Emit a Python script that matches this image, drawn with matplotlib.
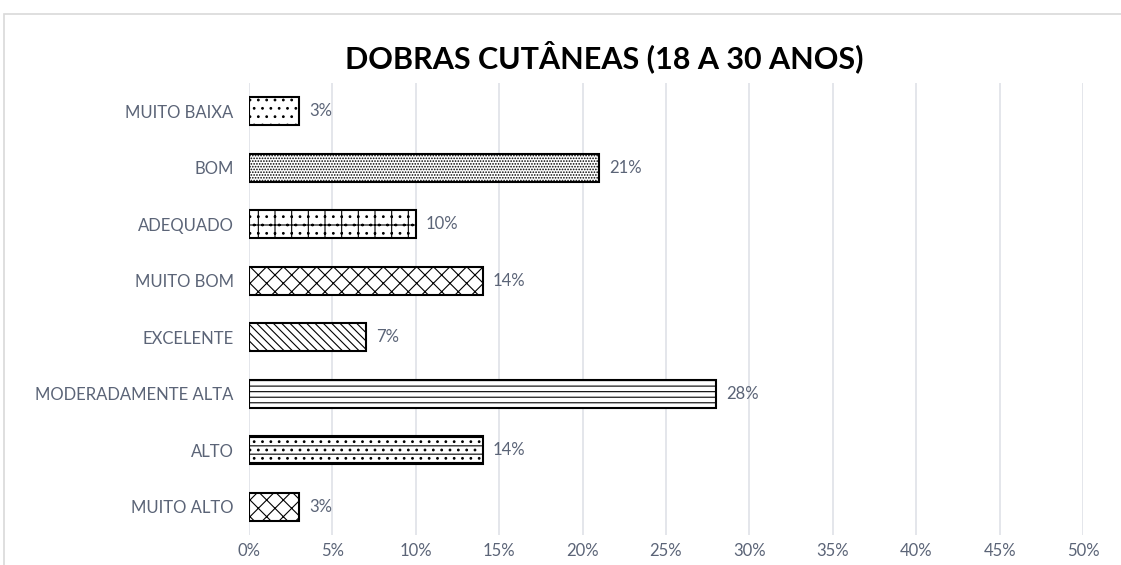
import matplotlib
matplotlib.use("Agg")
import matplotlib.pyplot as plt
from matplotlib.patches import Rectangle
from matplotlib.ticker import PercentFormatter

categories = ["MUITO BAIXA", "BOM", "ADEQUADO", "MUITO BOM", "EXCELENTE",
              "MODERADAMENTE ALTA", "ALTO", "MUITO ALTO"]
values = [0.03, 0.21, 0.10, 0.14, 0.07, 0.28, 0.14, 0.03]
labels = ["3%", "21%", "10%", "14%", "7%", "28%", "14%", "3%"]
hatches = ["..", "......", "+..", "xx", "\\\\\\\\", "---", "--..", "xx"]

TEXT = "#5b6477"
GRID = "#dfe2e8"

plt.rcParams["hatch.linewidth"] = 0.8
plt.rcParams["font.family"] = ["Lato", "DejaVu Sans"]

fig = plt.figure(figsize=(11.21, 5.65), dpi=100)
ax = fig.add_axes([0.2221, 0.053, 0.7440, 0.800])

# light chart-area border (left and top edges only visible in the crop)
fig.patches.append(Rectangle((4 / 1121, -0.1), 1.2, 1.1 - 14 / 565,
                             transform=fig.transFigure, fill=False,
                             edgecolor="#d9d9d9", linewidth=1.2))

y = range(len(categories))
for i, (v, h) in enumerate(zip(values, hatches)):
    ax.barh(i, v, height=0.5, color="white", edgecolor="black",
            hatch=h, linewidth=1.5, zorder=3)
    ax.text(v + 0.006, i, labels[i], va="center", ha="left",
            fontsize=12, color=TEXT)

ax.set_xlim(0, 0.5)
ax.set_ylim(len(categories) - 0.5, -0.5)
ax.set_xticks([i * 0.05 for i in range(11)])
ax.xaxis.set_major_formatter(PercentFormatter(1.0, decimals=0))
ax.set_yticks(list(y), categories)
ax.tick_params(axis="both", length=0, colors=TEXT, labelsize=12)
ax.tick_params(axis="y", pad=11)
ax.tick_params(axis="x", pad=6)
ax.grid(axis="x", color=GRID, linewidth=1.2, zorder=0)
ax.set_axisbelow(True)
for s in ax.spines.values():
    s.set_visible(False)

fig.text(0.539, 0.899, "DOBRAS CUTÂNEAS (18 A 30 ANOS)", ha="center",
         va="center", fontsize=22, fontweight="bold", color="black")

fig.savefig("out.png", dpi=100)
